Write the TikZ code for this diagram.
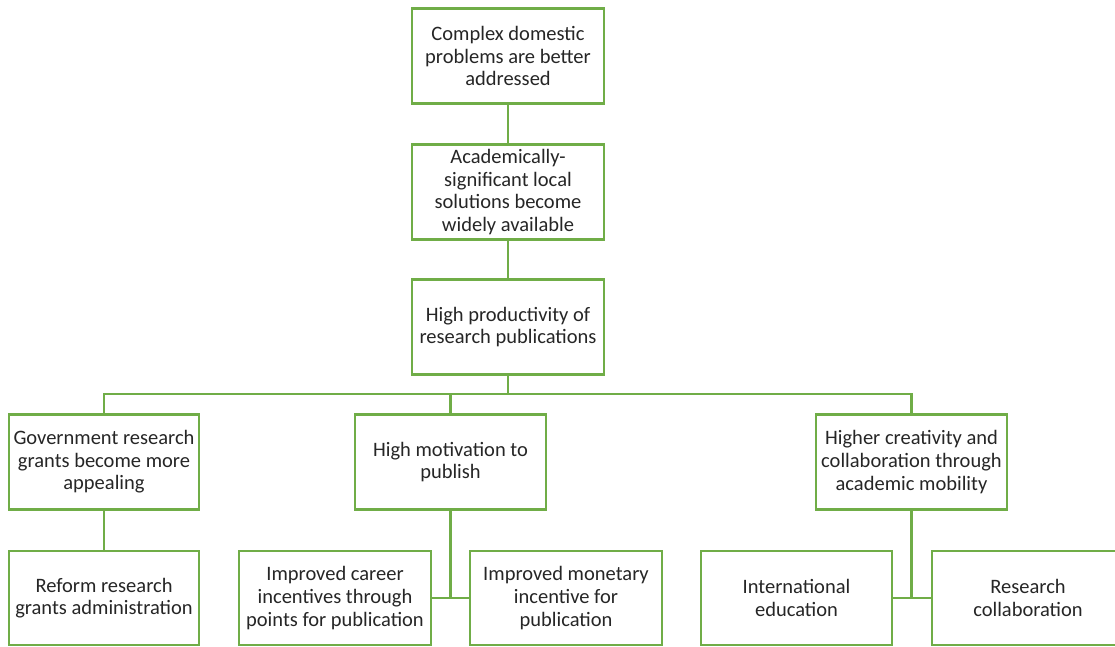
\documentclass[tikz,border=0pt]{standalone}
\usepackage{fontspec}
\setmainfont{Carlito}
\definecolor{boxgreen}{HTML}{70AD47}
\definecolor{txt}{HTML}{262626}
\begin{document}
\begin{tikzpicture}[x=1pt,y=-1pt,
  box/.style={draw=boxgreen,line width=2.2pt,fill=white,align=center,text=txt,
    minimum width=192pt,minimum height=95pt,inner sep=2pt,
    font=\fontsize{20.5}{22.6}\selectfont},
  conn/.style={draw=boxgreen,line width=2.2pt}]
\useasboundingbox (0,0) rectangle (1115,646);
\clip (0,0) rectangle (1115,646);
\coordinate (hy) at (0,394);
\coordinate (ly) at (0,598);
\node[box] (b1) at (508,56) {Complex domestic\\problems are better\\addressed};
\node[box] (b2) at (508,192) {Academically-\\significant local\\solutions become\\widely available};
\node[box] (b3) at (508,327) {High productivity of\\research publications};
\node[box,minimum width=190pt] (b4) at (104,462) {Government research\\grants become more\\appealing};
\node[box,minimum width=191pt] (b5) at (450.5,462) {High motivation to\\publish};
\node[box,minimum width=191pt] (b6) at (911.5,462) {Higher creativity and\\collaboration through\\academic mobility};
\node[box,minimum width=190pt,minimum height=94pt] (b7) at (104,598) {Reform research\\grants administration};
\node[box,minimum height=94pt] (b8) at (335,598) {Improved career\\incentives through\\points for publication};
\node[box,minimum height=94pt] (b9) at (566,598) {Improved monetary\\incentive for\\publication};
\node[box,minimum width=191pt,minimum height=94pt] (b10) at (796.5,598) {International\\education};
\node[box,minimum height=94pt] (b11) at (1028,598) {Research\\collaboration};
\draw[conn] (b1.south) -- (b2.north);
\draw[conn] (b2.south) -- (b3.north);
\draw[conn] (b3.south) -- (b3.south |- hy);
\draw[conn] (b4.north) -- (b4.north |- hy) -- (b6.north |- hy) -- (b6.north);
\draw[conn] (b5.north |- hy) -- (b5.north);
\draw[conn] (b4.south) -- (b7.north);
\draw[conn] (b5.south) -- (b5.south |- ly);
\draw[conn] (b8.east |- ly) -- (b9.west |- ly);
\draw[conn] (b6.south) -- (b6.south |- ly);
\draw[conn] (b10.east |- ly) -- (b11.west |- ly);
\end{tikzpicture}
\end{document}
